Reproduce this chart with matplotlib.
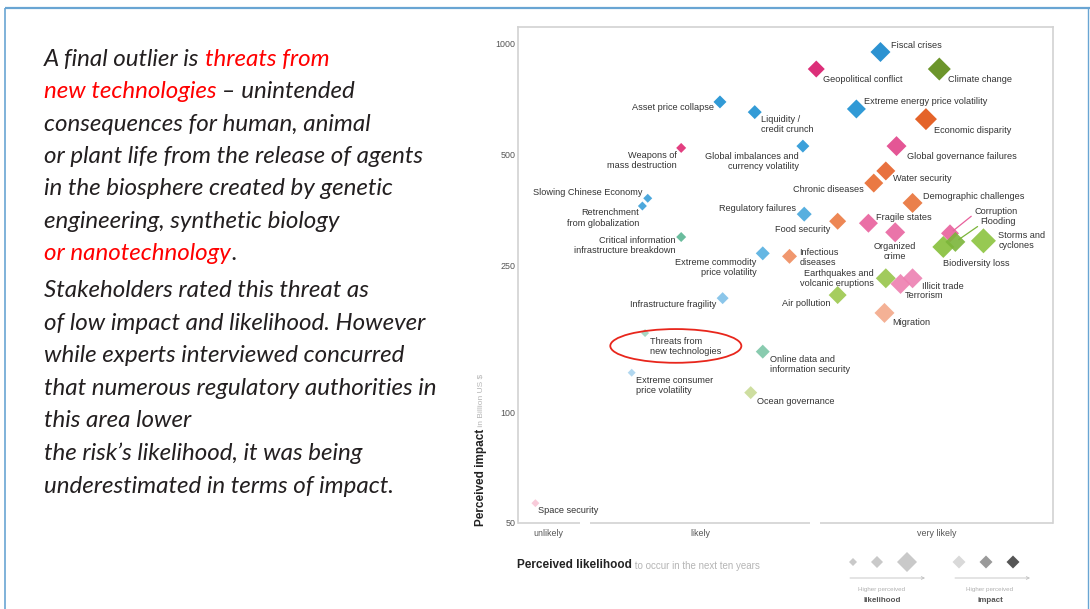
import matplotlib
matplotlib.use('Agg')
import matplotlib.pyplot as plt
from matplotlib.patches import Ellipse
from matplotlib.ticker import NullLocator
import numpy as np

# Global risks: perceived likelihood (1-5 score) and perceived impact (billion US$)
risks = [
    'Fiscal crises', 'Geopolitical conflict', 'Climate change',
    'Extreme energy price volatility', 'Asset price collapse', 'Liquidity /\ncredit crunch',
    'Economic disparity', 'Weapons of\nmass destruction', 'Global imbalances and\ncurrency volatility',
    'Global governance failures', 'Water security', 'Chronic diseases',
    'Slowing Chinese Economy', 'Retrenchment\nfrom globalization', 'Demographic challenges',
    'Regulatory failures', 'Food security', 'Fragile states', 'Organized\ncrime',
    'Corruption', 'Biodiversity loss', 'Flooding', 'Storms and\ncyclones',
    'Critical information\ninfrastructure breakdown', 'Extreme commodity\nprice volatility',
    'Infectious\ndiseases', 'Earthquakes and\nvolcanic eruptions', 'Illicit trade', 'Terrorism',
    'Air pollution', 'Infrastructure fragility', 'Migration', 'Threats from\nnew technologies',
    'Online data and\ninformation security', 'Extreme consumer\nprice volatility',
    'Ocean governance', 'Space security',
]
likelihood = [
    3.71, 3.23, 4.15,
    3.53, 2.51, 2.77,
    4.05, 2.22, 3.13,
    3.83, 3.75, 3.66,
    1.97, 1.93, 3.95,
    3.14, 3.39, 3.62, 3.82,
    4.23, 4.18, 4.27, 4.48,
    2.22, 2.83,
    3.03, 3.75, 3.95, 3.86,
    3.39, 2.53, 3.74, 1.95,
    2.83, 1.85,
    2.74, 1.13,
]
impact = [
    951, 855, 855,
    666, 696, 653,
    625, 522, 528,
    528, 452, 419,
    381, 363, 370,
    345, 330, 326, 308,
    306, 281, 290, 292,
    299, 270,
    265, 231, 231, 223,
    208, 204, 186, 164,
    146, 128,
    113, 56.6,
]

# diamond width in pixels (tip to tip)
widths = [20, 17, 23, 19, 13, 14, 22, 10, 13, 20, 19, 19, 9, 9, 20, 15, 17, 19, 20,
          18, 22, 20, 25, 10, 14, 15, 20, 20, 20, 18, 12, 20, 8, 14, 8, 13, 8]
colors = [
    '#1586cc', '#d9186a', '#5c8a14',
    '#1a8fd2', '#1a8fd2', '#1d90d2',
    '#e25212', '#e02a72', '#2796d6',
    '#e2448a', '#e6622a', '#e86a2e',
    '#3a9fd9', '#3a9fd9', '#e87238',
    '#45a6dc', '#eb7a42', '#e8609c', '#e865a0',
    '#e8609c', '#86bf3a', '#7bb53a', '#8cc43f',
    '#5ab593', '#55afe0',
    '#ef8c5e', '#97c54a', '#ed80b2', '#ee7fb0',
    '#9cc84e', '#7fc0e8', '#f3a98a', '#9fd2bc',
    '#7cc6a7', '#a9d3ee',
    '#c9db96', '#f8c6d6',
]

# label offset from the diamond in pixels (dx right, dy down) and alignment
label_pos = {
    'Fiscal crises': (11, -7, 'left'),
    'Geopolitical conflict': (7, 10, 'left'),
    'Climate change': (9, 10, 'left'),
    'Extreme energy price volatility': (8, -7, 'left'),
    'Asset price collapse': (-6, 6, 'right'),
    'Liquidity /\ncredit crunch': (6, 12, 'left'),
    'Economic disparity': (8, 11, 'left'),
    'Weapons of\nmass destruction': (-4, 13, 'right'),
    'Global imbalances and\ncurrency volatility': (-4, 15, 'right'),
    'Global governance failures': (10, 10, 'left'),
    'Water security': (7, 8, 'left'),
    'Chronic diseases': (-10, 6, 'right'),
    'Slowing Chinese Economy': (-5, -6, 'right'),
    'Retrenchment\nfrom globalization': (-3, 12, 'right'),
    'Demographic challenges': (10, -6, 'left'),
    'Regulatory failures': (-8, -6, 'right'),
    'Food security': (-7, 8, 'right'),
    'Fragile states': (8, -6, 'left'),
    'Organized\ncrime': (0, 19, 'center'),
    'Biodiversity loss': (0, 17, 'left'),
    'Storms and\ncyclones': (15, 0, 'left'),
    'Critical information\ninfrastructure breakdown': (-6, 8, 'right'),
    'Extreme commodity\nprice volatility': (-6, 14, 'right'),
    'Infectious\ndiseases': (10, 1, 'left'),
    'Earthquakes and\nvolcanic eruptions': (-12, 0, 'right'),
    'Illicit trade': (9, 8, 'left'),
    'Terrorism': (4, 12, 'left'),
    'Air pollution': (-7, 8, 'right'),
    'Infrastructure fragility': (-6, 6, 'right'),
    'Migration': (8, 10, 'left'),
    'Threats from\nnew technologies': (5, 13, 'left'),
    'Online data and\ninformation security': (7, 13, 'left'),
    'Extreme consumer\nprice volatility': (4, 13, 'left'),
    'Ocean governance': (6, 9, 'left'),
    'Space security': (3, 7, 'left'),
}
# labels tied to their diamond by a thin line
leader_pos = {
    'Corruption': (24, -22),
    'Flooding': (25, -20),
}

# likelihood bands along the bottom edge
bands = ['unlikely', 'likely', 'very likely']
band_edges = [(1.0, 1.46), (1.54, 3.18), (3.26, 5.0)]
impact_ticks = [50, 100, 250, 500, 1000]

chart_font = 'Liberation Sans'
text_font = 'Lato'
body_color = '#231f20'
red = '#ff0000'
label_size = 6.6

fig = plt.figure(figsize=(10.9, 6.09), dpi=100)

# page layer in pixel units for the border, body text and legend
page = fig.add_axes([0, 0, 1, 1])
page.set_xlim(0, 1090)
page.set_ylim(609, 0)
page.axis('off')

border = '#69a5d3'
page.plot([4.5, 4.5], [8, 609], color=border, lw=1.2, solid_capstyle='butt')
page.plot([4.5, 1090], [8, 8], color=border, lw=1.6, solid_capstyle='butt')
page.plot([1087.5, 1087.5], [8, 609], color=border, lw=1.0, solid_capstyle='butt')


def rich_line(x, y, parts, size=17.4):
    prev = None
    for s, c in parts:
        kw = dict(color=c, fontsize=size, fontstyle='italic', family=text_font)
        if prev is None:
            prev = page.text(x, y, s, va='baseline', **kw)
        else:
            prev = page.annotate(s, xy=(1, 0), xycoords=prev, va='bottom', **kw)


para1 = [
    [('A final outlier is ', body_color), ('threats from', red)],
    [('new technologies', red), (' \u2013 unintended', body_color)],
    [('consequences for human, animal', body_color)],
    [('or plant life from the release of agents', body_color)],
    [('in the biosphere created by genetic', body_color)],
    [('engineering, synthetic biology', body_color)],
    [('or nanotechnology', red), ('.', body_color)],
]
para2 = [
    [('Stakeholders rated this threat as', body_color)],
    [('of low impact and likelihood. However', body_color)],
    [('while experts interviewed concurred', body_color)],
    [('that numerous regulatory authorities in', body_color)],
    [('this area lower', body_color)],
    [('the risk\u2019s likelihood, it was being', body_color)],
    [('underestimated in terms of impact.', body_color)],
]
for i, parts in enumerate(para1):
    rich_line(44, 66 + 32.3 * i, parts)
for i, parts in enumerate(para2):
    rich_line(44, 297 + 32.6 * i, parts)

# scatter chart
ax = fig.add_axes([518 / 1090, 86 / 609, 535 / 1090, 496 / 609])
ax.set_yscale('log')
ax.set_xlim(1, 5)
ax.set_ylim(50, 1112)

sizes = (np.array(widths) / 1.964) ** 2
ax.scatter(likelihood, impact, s=sizes, c=colors, marker='D', linewidths=0,
           alpha=0.9, zorder=3)

for name, x, y, c in zip(risks, likelihood, impact, colors):
    if name in label_pos:
        dx, dy, ha = label_pos[name]
        ax.annotate(name, xy=(x, y), xytext=(dx, -dy), textcoords='offset pixels',
                    ha=ha, va='center', multialignment=ha, fontsize=label_size,
                    linespacing=1.15, family=chart_font, color='#333333', zorder=4)
    else:
        dx, dy = leader_pos[name]
        ax.annotate(name, xy=(x, y), xytext=(dx, -dy), textcoords='offset pixels',
                    ha='left', va='center', fontsize=label_size, family=chart_font,
                    color='#333333', zorder=4,
                    arrowprops=dict(arrowstyle='-', color=c, lw=0.9,
                                    shrinkA=0, shrinkB=3, relpos=(0, 0.2)))

# frame: left, top, right edges plus gapped bottom bands
for side in ['left', 'top', 'right']:
    ax.spines[side].set_color('#d2d2d2')
    ax.spines[side].set_linewidth(1.2)
ax.spines['bottom'].set_visible(False)
band_trans = ax.get_xaxis_transform()
for name, (x0, x1) in zip(bands, band_edges):
    ax.plot([x0, x1], [0, 0], transform=band_trans, color='#d2d2d2', lw=1.2,
            clip_on=False, solid_capstyle='butt')
    ax.text((x0 + x1) / 2, -0.022, name, transform=band_trans, ha='center', va='center',
            fontsize=6.4, family=chart_font, color='#555555')

ax.set_xticks([])
ax.set_yticks(impact_ticks)
ax.set_yticklabels([str(v) for v in impact_ticks])
ax.yaxis.set_minor_locator(NullLocator())
ax.tick_params(axis='y', length=0, labelsize=6.4, labelcolor='#555555', pad=2)
for lbl in ax.get_yticklabels():
    lbl.set_family(chart_font)

# highlight around the new technologies label
ax.add_patch(Ellipse((0.295, 0.357), 0.245, 0.068, transform=ax.transAxes,
                     fill=False, edgecolor='#e8261c', lw=1.3, zorder=5, clip_on=False))

# axis titles
yl = page.text(481, 526, 'Perceived impact', rotation=90, ha='center', va='bottom',
               fontsize=8.5, fontweight='bold', family=chart_font, color='#222222')
page.annotate(' in Billion US $', xy=(0.5, 1), xycoords=yl, rotation=90, ha='center',
              va='bottom', fontsize=6, family=chart_font, color='#b5b5b5')
xl = page.text(517, 568, 'Perceived likelihood', va='baseline', fontsize=8.5,
               fontweight='bold', family=chart_font, color='#222222')
page.annotate(' to occur in the next ten years', xy=(1, 0), xycoords=xl, va='bottom',
              fontsize=7, family=chart_font, color='#b5b5b5')

# size / shade key
key_size = np.array([8, 12, 20]) / 1.964
page.scatter([853, 877, 907], [562, 562, 562], s=key_size ** 2, marker='D',
             c='#c9c9c9', linewidths=0)
page.scatter([959, 986, 1013], [562, 562, 562], s=(13 / 1.964) ** 2, marker='D',
             c=['#d9d9d9', '#9a9a9a', '#555555'], linewidths=0)
for x0, x1, cx, word in [(850, 925, 882, 'likelihood'), (955, 1030, 990, 'impact')]:
    page.annotate('', xy=(x1, 578), xytext=(x0, 578),
                  arrowprops=dict(arrowstyle='->', color='#c0c0c0', lw=0.6,
                                  shrinkA=0, shrinkB=0, mutation_scale=5))
    page.text(cx, 590, 'Higher perceived', ha='center', va='center', fontsize=4.5,
              family=chart_font, color='#b0b0b0')
    page.text(cx, 600, word, ha='center', va='center', fontsize=5.8, fontweight='bold',
              family=chart_font, color='#555555')

fig.savefig('out.png', dpi=100, facecolor='white')
